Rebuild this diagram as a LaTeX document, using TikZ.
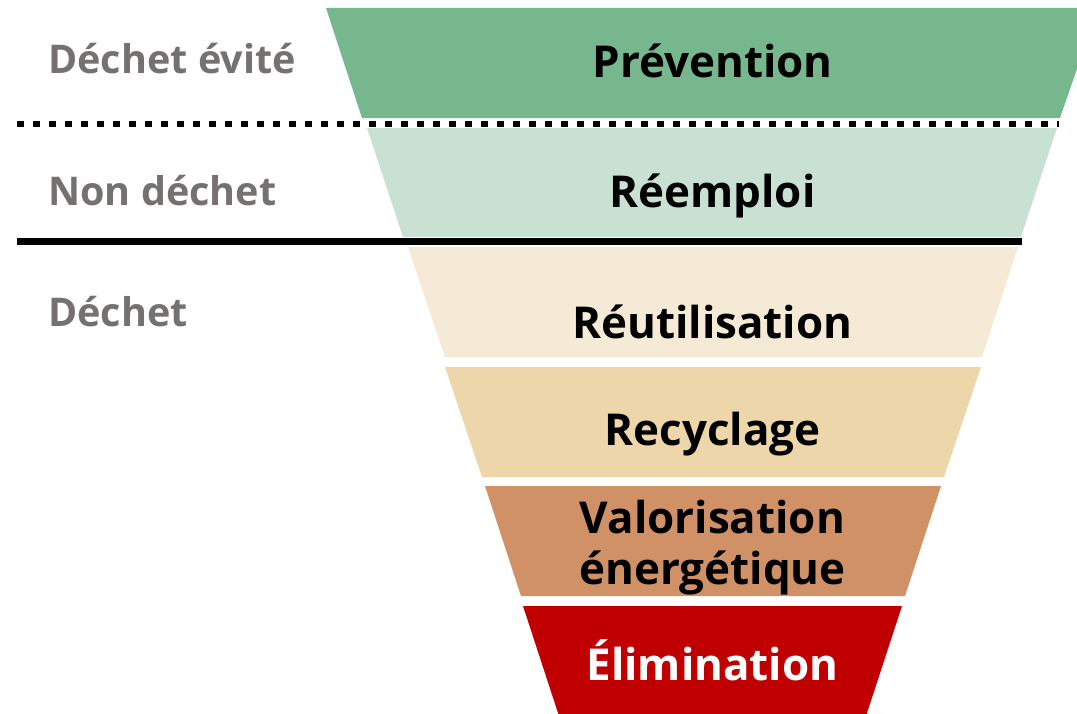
\documentclass[tikz,border=0pt]{standalone}
\usepackage{fontspec}
\setmainfont{Open Sans}
\usetikzlibrary{positioning}
\definecolor{prevgreen}{HTML}{76B78E}
\definecolor{reemgreen}{HTML}{C8E1D2}
\definecolor{reutbeige}{HTML}{F5EAD5}
\definecolor{recybeige}{HTML}{EDD7AA}
\definecolor{valobrown}{HTML}{D09167}
\definecolor{elimred}{HTML}{C00000}
\definecolor{labelgrey}{HTML}{767171}
\def\midx{712.5}
\tikzset{
x=0.02cm, y=-0.02cm,
band text/.style={anchor=base,inner sep=0pt,font=\fontsize{25}{28.5}\selectfont\bfseries},
side label/.style={anchor=base west,inner sep=0pt,text=labelgrey,font=\fontsize{22.5}{26}\selectfont\bfseries},
split line/.style={line width=0.14cm},
split dots/.style={split line,dash pattern=on 0.14cm off 0.18cm},
}
\begin{document}
\begin{tikzpicture}
\clip (0,0) rectangle (1077,713);
\fill[white] (0,0) rectangle (1077,713);

% funnel layers
\fill[prevgreen] (326,8) -- (1098,8) -- (1060,118) -- (362,118) -- cycle;
\fill[reemgreen] (367,128) -- (1057,128) -- (1021,237) -- (403,237) -- cycle;
\fill[reutbeige] (408,247) -- (1018,247) -- (982,357) -- (445,357) -- cycle;
\fill[recybeige] (445,367) -- (981,367) -- (944,477) -- (482,477) -- cycle;
\fill[valobrown] (485,486) -- (941,486) -- (905,596) -- (521,596) -- cycle;
\fill[elimred]   (523,606) -- (902,606) -- (866,716) -- (559,716) -- cycle;

% separators
\coordinate (d1) at (17,124);
\coordinate (d2) at (1059,124);
\coordinate (s1) at (17,241);
\coordinate (s2) at (1022,241);
\draw[split dots] (d1) -- (d2);
\draw[split line] (s1) -- (s2);

% layer names
\node[band text] (prev) at (\midx,77) {Prévention};
\node[band text] (reem) at (\midx,207) {Réemploi};
\node[band text] (reut) at (\midx,338) {Réutilisation};
\node[band text] (recy) at (\midx,445) {Recyclage};
\node[band text,align=center] (valo) at (\midx,584) {Valorisation\\énergétique};
\node[band text,text=white] (elim) at (\midx,680) {Élimination};

% categories
\node[side label] (evite) at (48,73) {Déchet évité};
\node[side label] (nondech) at (48,205) {Non déchet};
\node[side label] (dech) at (48,326) {Déchet};
\end{tikzpicture}
\end{document}
